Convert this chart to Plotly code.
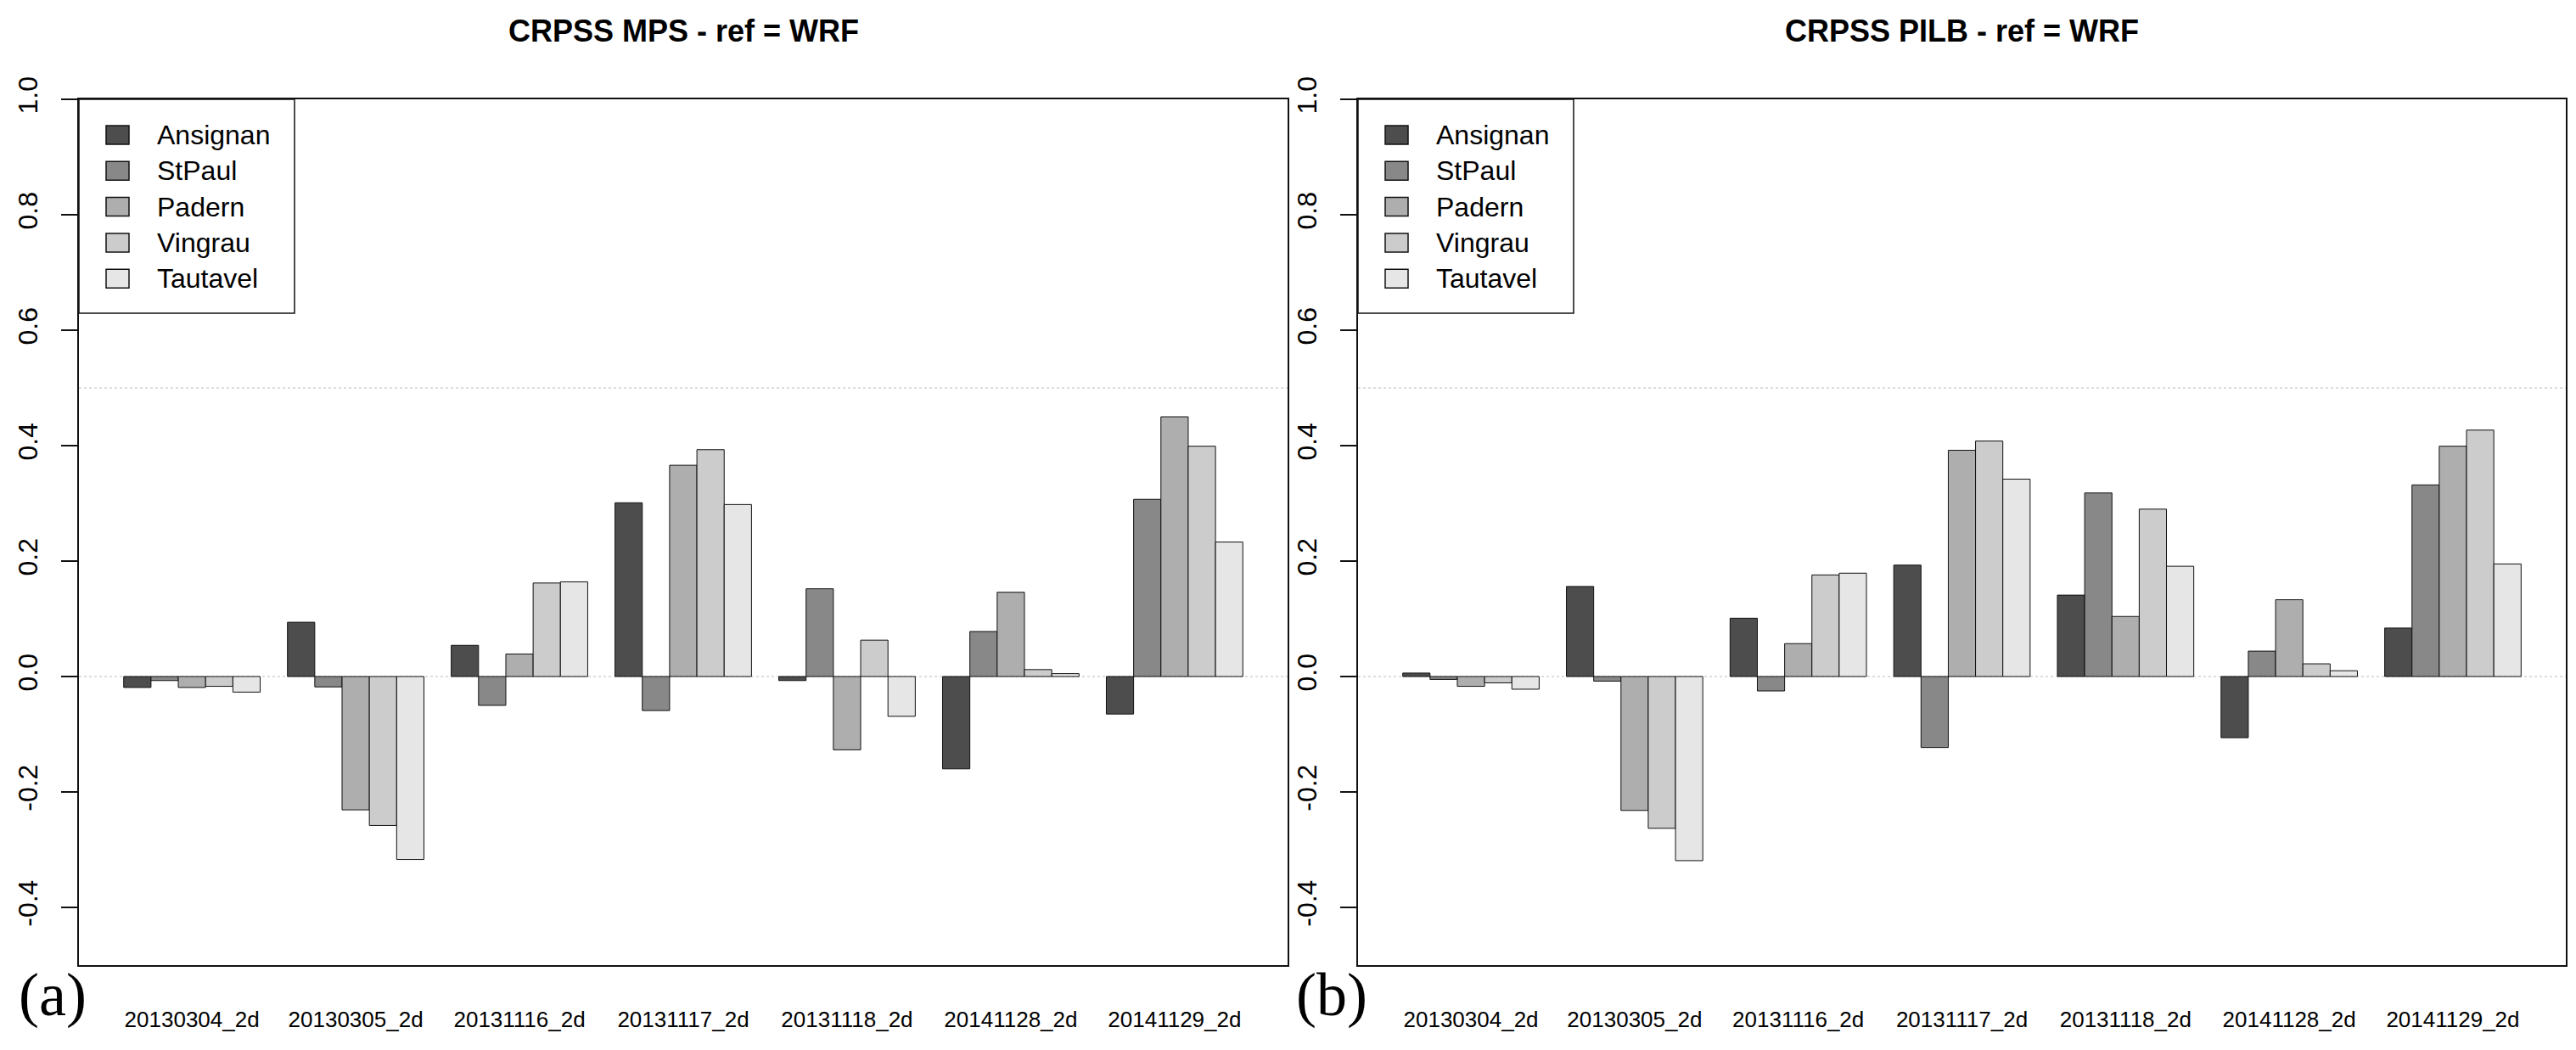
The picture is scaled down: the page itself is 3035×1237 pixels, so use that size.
import plotly.graph_objects as go

W, H = 3035, 1237

dates = ["20130304_2d", "20130305_2d", "20131116_2d", "20131117_2d",
         "20131118_2d", "20141128_2d", "20141129_2d"]
stations = ["Ansignan", "StPaul", "Padern", "Vingrau", "Tautavel"]
colors = ["#4D4D4D", "#888888", "#AEAEAE", "#CCCCCC", "#E6E6E6"]

# CRPSS MPS - ref = WRF
mps_ansignan = [-0.019, 0.094, 0.054, 0.301, -0.007, -0.160, -0.065]
mps_stpaul = [-0.007, -0.018, -0.050, -0.059, 0.152, 0.078, 0.307]
mps_padern = [-0.019, -0.231, 0.039, 0.366, -0.127, 0.146, 0.450]
mps_vingrau = [-0.017, -0.258, 0.162, 0.393, 0.063, 0.012, 0.399]
mps_tautavel = [-0.027, -0.317, 0.164, 0.298, -0.069, 0.005, 0.233]

# CRPSS PILB - ref = WRF
pilb_ansignan = [0.006, 0.156, 0.101, 0.193, 0.141, -0.106, 0.084]
pilb_stpaul = [-0.005, -0.008, -0.025, -0.123, 0.318, 0.044, 0.332]
pilb_padern = [-0.017, -0.232, 0.057, 0.392, 0.104, 0.133, 0.399]
pilb_vingrau = [-0.011, -0.263, 0.176, 0.408, 0.290, 0.022, 0.427]
pilb_tautavel = [-0.022, -0.319, 0.179, 0.342, 0.191, 0.010, 0.195]

ytick_vals = [-0.4, -0.2, 0.0, 0.2, 0.4, 0.6, 0.8, 1.0]
ytick_text = ["-0.4", "-0.2", "0.0", "0.2", "0.4", "0.6", "0.8", "1.0"]

titles = ["CRPSS MPS - ref = WRF", "CRPSS PILB - ref = WRF"]
panel_tags = ["(a)", "(b)"]

mps = [mps_ansignan, mps_stpaul, mps_padern, mps_vingrau, mps_tautavel]
pilb = [pilb_ansignan, pilb_stpaul, pilb_padern, pilb_vingrau, pilb_tautavel]

# layout in pixels
plot_top, plot_bot = 117, 1137
panels_px = [(93, 1517), (1600, 3023)]


def px(xp):
    return xp / W


def py(yp):
    return 1 - yp / H


fig = go.Figure()
for p, series in enumerate([mps, pilb]):
    xa = "x" if p == 0 else "x2"
    ya = "y" if p == 0 else "y2"
    for name, vals, col in zip(stations, series, colors):
        fig.add_trace(go.Bar(
            x=dates, y=vals, name=name, xaxis=xa, yaxis=ya,
            marker=dict(color=col, line=dict(color="#111111", width=1)),
            showlegend=False, offsetgroup=name,
        ))

axis_common_x = dict(
    type="category", range=[-0.69, 6.69], showgrid=False, zeroline=False,
    showline=True, mirror=True, linecolor="#111111", linewidth=1.5,
    ticks="", tickfont=dict(family="Liberation Sans", size=26, color="#000000"),
    ticklabelstandoff=40, automargin=False,
)
axis_common_y = dict(
    range=[-0.5, 1.0], showgrid=False, zeroline=False,
    showline=True, mirror=True, linecolor="#111111", linewidth=1.5,
    ticks="outside", ticklen=19, tickwidth=1.5, tickcolor="#111111",
    tickvals=ytick_vals, ticktext=ytick_text, tickangle=-90,
    tickfont=dict(family="Liberation Sans", size=32, color="#000000"),
    ticklabelstandoff=15, automargin=False,
)

ydom = [py(plot_bot), py(plot_top)]
fig.update_layout(
    width=W, height=H,
    margin=dict(l=0, r=0, t=0, b=0, autoexpand=False),
    paper_bgcolor="white", plot_bgcolor="white",
    barmode="group", bargap=1 / 6, bargroupgap=0,
    xaxis=dict(domain=[px(panels_px[0][0]), px(panels_px[0][1])], anchor="y", **axis_common_x),
    yaxis=dict(domain=ydom, anchor="x", **axis_common_y),
    xaxis2=dict(domain=[px(panels_px[1][0]), px(panels_px[1][1])], anchor="y2", **axis_common_x),
    yaxis2=dict(domain=ydom, anchor="x2", **axis_common_y),
    showlegend=False,
)

shapes = []
annotations = []
for p, (x0p, x1p) in enumerate(panels_px):
    xd = "x domain" if p == 0 else "x2 domain"
    yr = "y" if p == 0 else "y2"
    for yv in [0.0, 0.5]:
        shapes.append(dict(type="line", xref=xd, x0=0, x1=1, yref=yr, y0=yv, y1=yv,
                           line=dict(color="#BBBBBB", width=1, dash="dot"), layer="below"))
    # title
    annotations.append(dict(text="<b>" + titles[p] + "</b>", xref="paper", yref="paper",
                            x=px((x0p + x1p) / 2), y=py(36), xanchor="center", yanchor="middle",
                            showarrow=False, font=dict(family="Liberation Sans", size=36, color="#000000")))
    # panel tag
    annotations.append(dict(text=panel_tags[p], xref="paper", yref="paper",
                            x=px(x0p - 31), y=py(1172), xanchor="center", yanchor="middle",
                            showarrow=False, font=dict(family="Liberation Serif", size=72, color="#000000")))
    # legend box
    shapes.append(dict(type="rect", xref="paper", yref="paper",
                       x0=px(x0p), x1=px(x0p + 254), y0=py(369), y1=py(plot_top),
                       line=dict(color="#111111", width=1.5), fillcolor="white", layer="above"))
    for i, (name, col) in enumerate(zip(stations, colors)):
        yc = 159 + 42.3 * i
        shapes.append(dict(type="rect", xref="paper", yref="paper",
                           x0=px(x0p + 32), x1=px(x0p + 59), y0=py(yc + 11), y1=py(yc - 11),
                           line=dict(color="#111111", width=1.5), fillcolor=col, layer="above"))
        annotations.append(dict(text=name, xref="paper", yref="paper",
                                x=px(x0p + 90), y=py(yc), xanchor="left", yanchor="middle",
                                showarrow=False, font=dict(family="Liberation Sans", size=32, color="#000000")))

fig.update_layout(shapes=shapes, annotations=annotations)
fig.write_html("out.html", config={"displayModeBar": False},
               post_script="document.body.style.margin='0px';document.documentElement.style.overflow='hidden';")
